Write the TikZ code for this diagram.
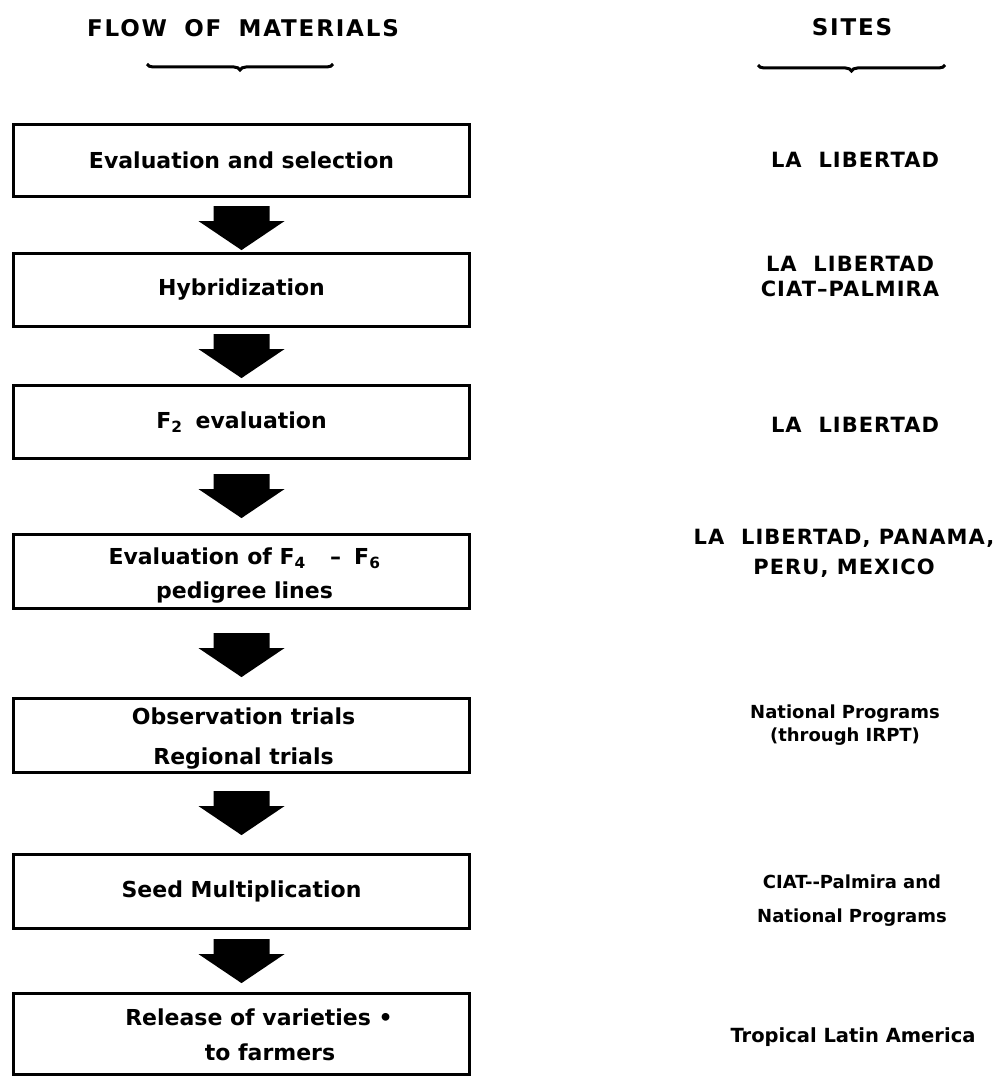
\documentclass[tikz,border=0pt]{standalone}
\usepackage{fontspec}
\setmainfont{DejaVu Sans}[BoldFont=DejaVu Sans Bold]
\newfontfamily\hdfont{DejaVu Sans Bold}[LetterSpace=8]
\newfontfamily\capfont{DejaVu Sans Bold}[LetterSpace=5]
\usetikzlibrary{decorations.pathreplacing,calc}
\tikzset{
  flowbox/.style={draw, line width=2.8pt, minimum width=456pt, inner sep=0pt,
    align=center, font=\bfseries\fontsize{22}{34}\selectfont},
  boxtxt/.style={inner sep=0pt, align=center, font=\bfseries\fontsize{22}{34}\selectfont},
  headtxt/.style={inner sep=0pt, font=\hdfont\fontsize{23}{28}\selectfont},
  sitecap/.style={inner sep=0pt, align=center, font=\capfont\fontsize{21}{25}\selectfont},
  sitesm/.style={inner sep=0pt, align=center, font=\bfseries\fontsize{18}{23}\selectfont},
  headbrace/.style={decorate, decoration={brace, mirror, amplitude=6pt}, line width=3pt},
  pics/fatarrow/.style={code={
    \fill (-28,-44) -- (28,-44) -- (28,-29) -- (43,-29) -- (0,0) -- (-43,-29) -- (-28,-29) -- cycle;
  }}
}
\begin{document}
\begin{tikzpicture}[x=1pt, y=-1pt]
\useasboundingbox (0,0) rectangle (1007,1078);

% headers
\node[headtxt] (hflow) at (243,28) {FLOW\hspace{0.75em}OF\hspace{0.75em}MATERIALS};
\node[headtxt] (hsites) at (852,27) {SITES};
\draw[headbrace] (147,64) -- (333,64);
\draw[headbrace] (758,65) -- (945,65);

% flow boxes
\node[flowbox, minimum height=72pt] (b1) at (241.5,160.5) {Evaluation and selection};
\node[flowbox, minimum height=73pt] (b2) at (241.5,290) {Hybridization};
\node[flowbox, minimum height=73pt] (b3) at (241.5,422) {F\textsubscript{2}\hspace{0.6em}evaluation};
\node[flowbox, minimum height=74pt] (b4) at (241.5,571.5) {};
\node[boxtxt] (t4) at ($(b4.center)+(3,4)$) {Evaluation of F\textsubscript{4}\hspace{1.1em}–\hspace{0.6em}F\textsubscript{6}\\pedigree lines};
\node[flowbox, minimum height=74pt] (b5) at (241.5,735.5) {};
\node[boxtxt, font=\bfseries\fontsize{22}{40}\selectfont] (t5) at ($(b5.center)+(2,3)$) {Observation trials\\Regional trials};
\node[flowbox, minimum height=74pt] (b6) at (241.5,891.5) {Seed Multiplication};
\node[flowbox, minimum height=81pt] (b7) at (241.5,1034) {};
\node[boxtxt] (t7a) at (259,1017) {Release of varieties •};
\node[boxtxt] (t7b) at (270,1052) {to farmers};

% arrows
\pic at ($(b2.north)+(0,-2)$) {fatarrow};
\pic at ($(b3.north)+(0,-6)$) {fatarrow};
\pic at ($(b4.north)+(0,-15)$) {fatarrow};
\pic at ($(b5.north)+(0,-20)$) {fatarrow};
\pic at ($(b6.north)+(0,-18)$) {fatarrow};
\pic at ($(b7.north)+(0,-9)$) {fatarrow};

% sites
\node[sitecap] (s1) at (855,160) {LA\hspace{0.8em}LIBERTAD};
\node[sitecap] (s2) at (850,276) {LA\hspace{0.8em}LIBERTAD\\CIAT–PALMIRA};
\node[sitecap] (s3) at (855,425) {LA\hspace{0.8em}LIBERTAD};
\node[sitecap, font=\capfont\fontsize{21}{30}\selectfont] (s4) at (844,553) {LA\hspace{0.8em}LIBERTAD, PANAMA,\\PERU, MEXICO};
\node[sitesm] (s5) at (845,725) {National Programs\\(through IRPT)};
\node[sitesm, font=\bfseries\fontsize{18}{34}\selectfont] (s6) at (852,901) {CIAT-{}-Palmira and\\National Programs};
\node[sitesm, font=\bfseries\fontsize{19.5}{23}\selectfont] (s7) at (853,1037) {Tropical Latin America};
\end{tikzpicture}
\end{document}
